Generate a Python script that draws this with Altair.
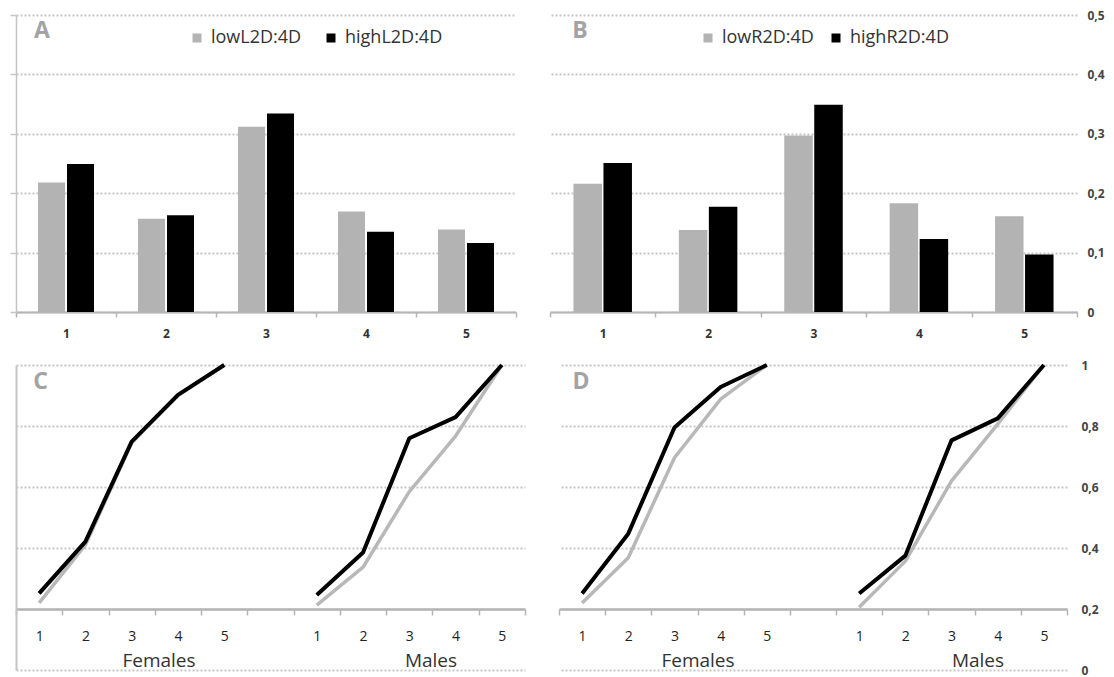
import altair as alt
import pandas as pd

FONT = "Open Sans"

# ---------------- data ----------------
ranks = ["1", "2", "3", "4", "5"]
a_labels = ["lowL2D:4D", "highL2D:4D"]
a_low = [0.218, 0.157, 0.312, 0.169, 0.139]
a_high = [0.249, 0.163, 0.334, 0.135, 0.116]
b_labels = ["lowR2D:4D", "highR2D:4D"]
b_low = [0.216, 0.138, 0.297, 0.183, 0.161]
b_high = [0.251, 0.177, 0.349, 0.123, 0.097]

line_cats = ["F1", "F2", "F3", "F4", "F5", "gap", "M1", "M2", "M3", "M4", "M5"]
c_f_low = [0.220, 0.410, 0.745, 0.900, 1.0]
c_f_high = [0.251, 0.421, 0.749, 0.902, 1.0]
c_m_low = [0.213, 0.337, 0.585, 0.767, 1.0]
c_m_high = [0.246, 0.385, 0.760, 0.829, 1.0]
d_f_low = [0.220, 0.368, 0.696, 0.888, 1.0]
d_f_high = [0.251, 0.447, 0.795, 0.928, 1.0]
d_m_low = [0.206, 0.357, 0.620, 0.806, 1.0]
d_m_high = [0.251, 0.375, 0.753, 0.825, 1.0]

bar_ticks = [0, 0.1, 0.2, 0.3, 0.4, 0.5]
line_ticks = [0, 0.2, 0.4, 0.6, 0.8, 1.0]

GRID = "#c6c6c6"
AXIS = "#b4b4b4"
GRAY = "#b3b3b3"
BLACK = "#000000"
COMMA = ("datum.value == 0 ? '0' : datum.value == 1 ? '1' : "
         "replace(format(datum.value, '.1f'), '.', ',')")
CAT_LABEL = ("isString(datum.value) && datum.value != 'gap' ? "
             "substring(datum.value, 1) : ''")


def text_layer(txt, x, y, size, weight, color):
    return alt.Chart(pd.DataFrame({"t": [txt]})).mark_text(
        font=FONT, fontSize=size, fontWeight=weight, color=color,
        align="center", baseline="middle"
    ).encode(text="t:N", x=alt.value(x), y=alt.value(y))


def y_axis(orient, values):
    common = dict(title=None, values=values, grid=True, gridColor=GRID,
                  gridDash=[2, 2], gridWidth=2)
    if orient == "left":
        return alt.Axis(orient="left", labels=False, domain=True,
                        domainColor="#c4c4c4", domainWidth=1.5, ticks=True,
                        tickSize=6, tickColor=GRID, tickWidth=1.5, **common)
    if orient == "leftplain":
        return alt.Axis(orient="left", labels=False, domain=True,
                        domainColor="#c4c4c4", domainWidth=2, ticks=True,
                        tickSize=6, tickColor="#ffffff", **common)
    return alt.Axis(orient="right", labelExpr=COMMA, labelFont=FONT,
                    labelFontSize=12, labelFontWeight="bold", labelColor="#444",
                    labelPadding=10 if values == bar_ticks else 14,
                    labelAlign="left", domain=False, ticks=False, **common)


def bar_panel(low, high, labels, ch, width, orient, bar_w, shift, legend_x,
              legend_pad, letter_x):
    df = pd.DataFrame({"rank": ranks + ranks,
                       "group": [labels[0]] * 5 + [labels[1]] * 5,
                       "value": low + high})
    xenc = alt.X("rank:N", sort=ranks,
                 scale=alt.Scale(paddingInner=0, paddingOuter=0),
                 axis=alt.Axis(title=None, labelAngle=0, tickBand="extent",
                               domainColor=AXIS, domainWidth=2, tickColor=AXIS,
                               tickWidth=1.5, tickSize=5, labelFont=FONT,
                               labelFontSize=12, labelFontWeight="bold",
                               labelColor="#333", labelPadding=11, grid=False))
    yenc = alt.Y("value:Q", scale=alt.Scale(domain=[0, 0.5], nice=False),
                 axis=y_axis(orient, bar_ticks))
    cenc = alt.Color("group:N",
                     scale=alt.Scale(domain=labels, range=[GRAY, BLACK]),
                     legend=alt.Legend(title=None, orient="none",
                                       legendX=legend_x, legendY=14,
                                       direction="horizontal",
                                       symbolType="square", symbolSize=81,
                                       symbolStrokeWidth=0, labelFont=FONT,
                                       labelFontSize=18, labelColor="#333",
                                       labelOffset=5, columnPadding=legend_pad,
                                       padding=0))
    base = alt.Chart(df)
    low_bars = base.transform_filter(
        alt.datum.group == labels[0]
    ).mark_bar(width=bar_w, xOffset=-shift).encode(x=xenc, y=yenc, color=cenc)
    high_bars = base.transform_filter(
        alt.datum.group == labels[1]
    ).mark_bar(width=bar_w, xOffset=shift).encode(x=xenc, y=yenc, color=cenc)
    return alt.layer(
        low_bars, high_bars, text_layer(ch, letter_x, 16, 23, "bold", "#a3a3a3")
    ).properties(width=width, height=297)


def line_panel(f_low, f_high, m_low, m_high, ch, width, orient,
               letter_x, fem_x, male_x, lab_y):
    rows = []
    for sex, lo, hi in (("F", f_low, f_high), ("M", m_low, m_high)):
        for i in range(5):
            rows.append({"cat": f"{sex}{i + 1}", "sex": sex, "group": "low", "value": lo[i]})
            rows.append({"cat": f"{sex}{i + 1}", "sex": sex, "group": "high", "value": hi[i]})
    df = pd.DataFrame(rows)
    xenc = alt.X("cat:N", sort=line_cats, bandPosition=0.5,
                 scale=alt.Scale(type="band", domain=line_cats,
                                 paddingInner=0, paddingOuter=0),
                 axis=alt.Axis(title=None, labelAngle=0, tickBand="extent",
                               offset=-61, domainColor=AXIS, domainWidth=2.5,
                               tickColor=AXIS, tickWidth=1.5, tickSize=6,
                               labelExpr=CAT_LABEL,
                               labelFont=FONT, labelFontSize=14, labelColor="#222",
                               labelPadding=14, grid=False))
    yenc = alt.Y("value:Q", scale=alt.Scale(domain=[0, 1], nice=False),
                 axis=y_axis(orient, line_ticks))
    low_line = alt.Chart(df).transform_filter("datum.group == 'low'").mark_line(
        color="#b8b8b8", strokeWidth=3.5, strokeJoin="round"
    ).encode(x=xenc, y=yenc, detail="sex:N")
    high_line = alt.Chart(df).transform_filter("datum.group == 'high'").mark_line(
        color=BLACK, strokeWidth=4, strokeJoin="round"
    ).encode(x=xenc, y=yenc, detail="sex:N")
    return alt.layer(
        low_line, high_line,
        text_layer(ch, letter_x, 16.5, 23, "bold", "#a3a3a3"),
        text_layer("Females", fem_x, lab_y, 19, "normal", "#333"),
        text_layer("Males", male_x, lab_y, 19, "normal", "#333"),
    ).properties(width=width, height=305)


pA = bar_panel(a_low, a_high, a_labels, "A", 500, "left", 27, 14.5, 172, 20, 26)
pB = bar_panel(b_low, b_high, b_labels, "B", 527, "right", 28.5, 15, 149, 13, 30)
pC = line_panel(c_f_low, c_f_high, c_m_low, c_m_high, "C", 509, "leftplain",
                24.5, 143, 415, 296)
pD = line_panel(d_f_low, d_f_high, d_m_low, d_m_high, "D", 508, "right",
                22, 139, 419, 296)

res = dict(x="independent", y="independent", color="independent")
row1 = alt.hconcat(pA, pB, spacing=34, bounds="flush").resolve_scale(**res)
row2 = alt.hconcat(pC, pD, spacing=34, bounds="flush").resolve_scale(**res)

chart = alt.vconcat(row1, row2, spacing=18).resolve_scale(
    **res
).properties(padding=0).configure_view(stroke="transparent")

chart.save("out.html", embed_options={"renderer": "svg", "actions": False})
